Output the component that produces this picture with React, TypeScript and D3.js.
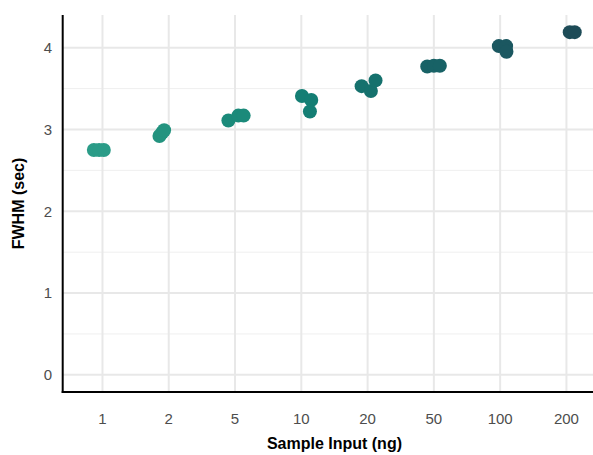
import React from "react";
import * as d3 from "d3";

const categories = ["1", "2", "5", "10", "20", "50", "100", "200"];
const colors = ["#2b9c88", "#23937f", "#1b8a7a", "#147e74", "#15716d", "#186266", "#1b5760", "#1d4b57"];
// each point: category, FWHM value, horizontal jitter (fraction of category step)
const pointCat = ["1", "1", "1", "2", "2", "2", "5", "5", "5", "10", "10", "10", "20", "20", "20", "50", "50", "50", "100", "100", "100", "200", "200"];
const pointVal = [2.75, 2.75, 2.75, 2.92, 2.96, 2.99, 3.11, 3.17, 3.17, 3.41, 3.36, 3.22, 3.53, 3.47, 3.6, 3.77, 3.78, 3.78, 4.02, 4.02, 3.95, 4.19, 4.19];
const pointJit = [-0.13, -0.05, 0.02, -0.14, -0.1, -0.07, -0.1, 0.05, 0.13, 0.01, 0.15, 0.13, -0.09, 0.05, 0.12, -0.1, 0, 0.09, -0.02, 0.09, 0.095, 0.05, 0.125];
const yTicks = [0, 1, 2, 3, 4];
const yMinor = [0.5, 1.5, 2.5, 3.5];

const W = 593, H = 455;
const left = 62.7, top = 15, bottom = 392, rightFull = 606.2;

export default function App() {
  const x = d3.scalePoint<string>().domain(categories).range([left, rightFull]).padding(0.6);
  const step = x.step();
  const y = d3.scaleLinear().domain([-0.21, 4.4]).range([bottom, top]);
  const color = d3.scaleOrdinal<string, string>().domain(categories).range(colors);
  const font = "'Liberation Sans', Arial, Helvetica, sans-serif";

  return (
    <svg width={W} height={H} style={{ position: "absolute", left: 0, top: 0 }} fontFamily={font}>
      <rect width={W} height={H} fill="#ffffff" />
      {yMinor.map((t) => (
        <line key={"mn" + t} x1={left} x2={W} y1={y(t)} y2={y(t)} stroke="#efefef" strokeWidth={1} />
      ))}
      {yTicks.map((t) => (
        <line key={"mj" + t} x1={left} x2={W} y1={y(t)} y2={y(t)} stroke="#e8e8e8" strokeWidth={2} />
      ))}
      {categories.map((c) => (
        <line key={"vx" + c} x1={x(c)} x2={x(c)} y1={top} y2={bottom} stroke="#e8e8e8" strokeWidth={2} />
      ))}
      {pointVal.map((v, i) => (
        <circle key={i} cx={(x(pointCat[i]) as number) + pointJit[i] * step} cy={y(v)} r={7} fill={color(pointCat[i])} />
      ))}
      <line x1={left} x2={left} y1={top} y2={bottom + 1} stroke="#000" strokeWidth={2} />
      <line x1={left - 1} x2={W} y1={bottom} y2={bottom} stroke="#000" strokeWidth={2} />
      {yTicks.map((t) => (
        <text key={"yt" + t} x={52} y={y(t)} dy="0.36em" textAnchor="end" fontSize={15} fill="#4d4d4d">{t}</text>
      ))}
      {categories.map((c) => (
        <text key={"xt" + c} x={x(c)} y={424} textAnchor="middle" fontSize={15} fill="#4d4d4d">{c}</text>
      ))}
      <text x={x("20") as number - step / 2} y={449} textAnchor="middle" fontSize={16} fontWeight="bold" fill="#000">Sample Input (ng)</text>
      <text transform={`translate(24,${(top + bottom) / 2}) rotate(-90)`} textAnchor="middle" fontSize={16} fontWeight="bold" fill="#000">FWHM (sec)</text>
    </svg>
  );
}
